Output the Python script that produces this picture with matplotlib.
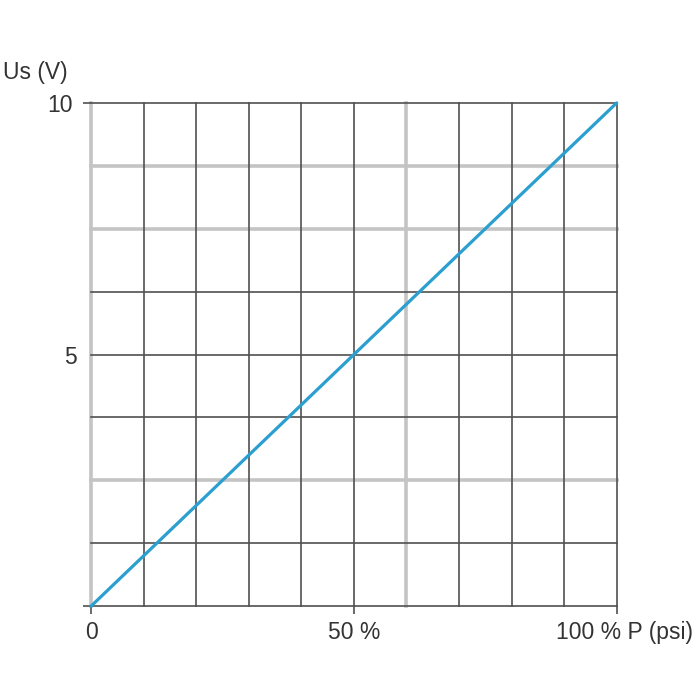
import matplotlib.pyplot as plt
from matplotlib.transforms import ScaledTranslation

# dane wykresu
p_percent = [0, 100]
us_volt = [0, 10]

x_grid = [0, 10, 20, 30, 40, 50, 60, 70, 80, 90, 100]
x_grid_grey = [0, 60]
y_grid = [0, 1.25, 2.5, 3.75, 5, 6.25, 7.5, 8.75, 10]
y_grid_grey = [2.5, 7.5, 8.75]

x_ticks = [0, 50, 100]
x_tick_labels = ['0', '50 %', '100 % P (psi)']
y_ticks = [0, 10]
y_tick_labels = ['', '10']

plt.rcParams['font.family'] = ['Liberation Sans', 'DejaVu Sans']

fig = plt.figure(figsize=(7, 7), dpi=100)
ax = fig.add_axes([0.130, 0.134, 0.751, 0.719])

dark = '#505050'
grey = '#c4c4c4'
txt = '#333333'
fs = 16.5

for x in x_grid:
    if x in x_grid_grey:
        ax.axvline(x, color=grey, lw=2.6, zorder=1, clip_on=False)
    else:
        ax.axvline(x, color=dark, lw=1.2, zorder=2, clip_on=False)
for y in y_grid:
    if y in y_grid_grey:
        ax.axhline(y, color=grey, lw=2.6, zorder=1, clip_on=False)
    else:
        ax.axhline(y, color=dark, lw=1.2, zorder=2, clip_on=False)

ax.plot(p_percent, us_volt, color='#2a9fd0', lw=2.3, zorder=3,
        solid_capstyle='round', clip_on=False)

ax.set_xlim(0, 100)
ax.set_ylim(0, 10)
for s in ax.spines.values():
    s.set_visible(False)

ax.set_xticks(x_ticks)
ax.set_xticklabels(x_tick_labels)
ax.set_yticks(y_ticks)
ax.set_yticklabels(y_tick_labels)
ax.set_yticks([5], minor=True)
ax.set_yticklabels(['5'], minor=True)
ax.tick_params(axis='x', which='major', length=6, width=1.2, color=dark,
               labelsize=fs, labelcolor=txt, pad=5)
ax.tick_params(axis='y', which='major', length=6, width=1.2, color=dark,
               labelsize=fs, labelcolor=txt, pad=7)
ax.tick_params(axis='y', which='minor', length=0, labelsize=fs,
               labelcolor=txt, pad=10)

# ostatnia etykieta lekko w prawo
last = ax.get_xticklabels()[-1]
last.set_transform(last.get_transform() + ScaledTranslation(8 / 100, 0, fig.dpi_scale_trans))

fig.text(0.004, 0.897, 'Us (V)', fontsize=fs, color=txt, va='center')

fig.savefig('out.png', dpi=100, facecolor='white')
